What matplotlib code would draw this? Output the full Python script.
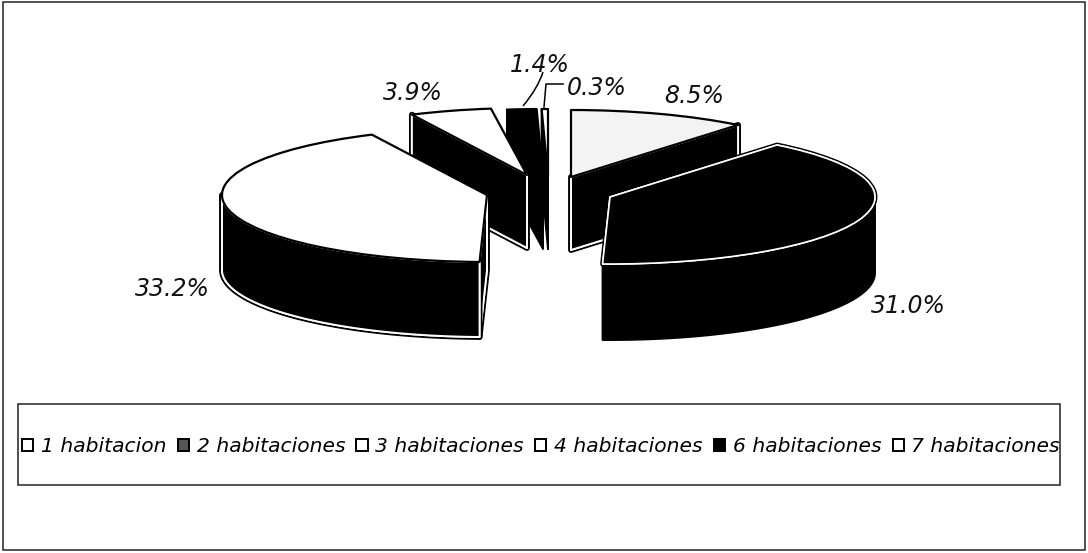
import numpy as np
import matplotlib
matplotlib.use("Agg")
import matplotlib.pyplot as plt
from matplotlib.patches import Patch, Polygon, Rectangle, PathPatch
from matplotlib.path import Path
from matplotlib.transforms import Affine2D
import matplotlib.patheffects as pe

categories = ["1 habitacion", "2 habitaciones", "3 habitaciones",
              "4 habitaciones", "6 habitaciones", "7 habitaciones"]
values = [8.5, 31.0, 33.2, 3.9, 1.4, 0.3]
value_labels = ["8.5%", "31.0%", "33.2%", "3.9%", "1.4%", "0.3%"]

# layout, in image pixels
W, H = 1088, 553
RX, RY = 265, 67
apex = [(571, 177), (610, 197), (487, 195), (527, 175), (543, 176), (548, 176)]
depth = [73, 76, 75, 73, 73, 73]
order = [2, 4, 6, 4, 2, 1]
label_xy = [(694, 96), (908, 306), (172, 289), (413, 93), (540, 65), (597, 88)]
top_color = ["#f3f3f3", "black", "white", "white", "black", "white"]
legend_color = ["white", "#555555", "white", "white", "black", "white"]
top_edge = ["black", "white", "black", "black", "black", "black"]
side_white = [True, False, True, True, False, False]

plt.rcParams["font.family"] = "DejaVu Sans"
fig = plt.figure(figsize=(W / 100, H / 100), dpi=100)
ax = fig.add_axes([0, 0, 1, 1])
wedges, _ = ax.pie(values, startangle=90, counterclock=False, radius=1,
                   center=(0, 0))
ax.set_aspect("auto")
ax.set_xlim(0, W)
ax.set_ylim(H, 0)
ax.axis("off")

sandwich = [pe.withStroke(linewidth=4.2, foreground="black")]


def point(i, t):
    a = np.radians(t)
    return (apex[i][0] + RX * np.sin(a), apex[i][1] - RY * np.cos(a))


def cut_face(i, t, d):
    p = point(i, t)
    return [apex[i], p, (p[0], p[1] + d), (apex[i][0], apex[i][1] + d)]


for i, w in enumerate(wedges):
    t1, t2 = 90 - w.theta2, 90 - w.theta1
    d = depth[i]
    z = order[i]
    faces = []
    # only the faces turned towards the viewer
    if np.sin(np.radians(t1)) < 0:
        faces.append(cut_face(i, t1, d))
    if np.sin(np.radians(t2)) > 0:
        faces.append(cut_face(i, t2, d))
    lo, hi = max(t1, 90), min(t2, 270)
    if hi > lo:
        ts = np.linspace(lo, hi, 60)
        upper = [point(i, t) for t in ts]
        lower = [(x, y + d) for x, y in upper[::-1]]
        faces.append(upper + lower)
    for f in faces:
        poly = Polygon(f, closed=True, facecolor="black",
                       edgecolor="white" if side_white[i] else "black",
                       lw=1.4, zorder=z, joinstyle="round")
        if side_white[i]:
            poly.set_path_effects(sandwich + [pe.Normal()])
        ax.add_patch(poly)
    w.set_transform(Affine2D().scale(RX, -RY).translate(*apex[i]) + ax.transData)
    w.set_facecolor(top_color[i])
    w.set_edgecolor(top_edge[i])
    w.set_linewidth(1.2 if top_edge[i] == "white" else 1.6)
    w.set_joinstyle("round")
    w.set_zorder(z + 0.5)
    w.set_clip_on(False)
    if top_edge[i] == "white":
        w.set_path_effects([pe.withStroke(linewidth=3.5, foreground="black"), pe.Normal()])

for txt, (x, y) in zip(value_labels, label_xy):
    ax.text(x, y, txt, style="italic", fontsize=17, ha="center", va="center",
            color="#111111", zorder=20)

# leader lines
ax.add_patch(PathPatch(Path([(543, 72), (538, 88), (523, 106)],
                            [Path.MOVETO, Path.CURVE3, Path.CURVE3]),
                       fill=False, lw=1.1, ec="black", zorder=20))
ax.plot([563, 546, 544], [84, 84, 107], color="black", lw=1.1, zorder=20)

# outer frame and legend box
ax.add_patch(Rectangle((3, 2), 1082, 548, fill=False, ec="#222222", lw=1.1, zorder=0))
ax.add_patch(Rectangle((18, 404), 1042, 81, fill=False, ec="#222222", lw=1.1, zorder=0))

handles = [Patch(facecolor=c, edgecolor="black", linewidth=1.4) for c in legend_color]
ax.legend(handles, categories, loc="center", bbox_to_anchor=(541, 447),
          bbox_transform=ax.transData, ncol=6, frameon=False, borderpad=0,
          borderaxespad=0, handlelength=0.55, handleheight=0.55,
          handletextpad=0.38, columnspacing=0.56,
          prop={"style": "italic", "size": 14.6})

fig.savefig("out.png", dpi=100)
